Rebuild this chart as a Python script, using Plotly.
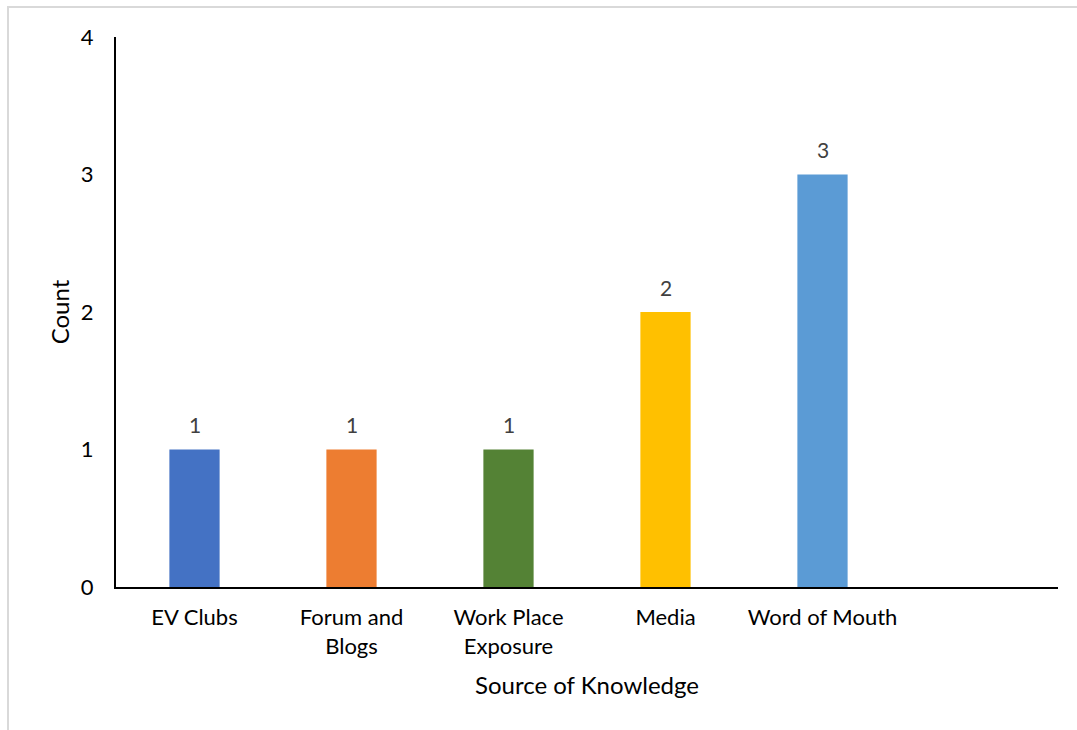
import plotly.graph_objects as go

categories = ["EV Clubs", "Forum and<br>Blogs", "Work Place<br>Exposure", "Media", "Word of Mouth"]
counts = [1, 1, 1, 2, 3]
colors = ["#4472C4", "#ED7D31", "#548235", "#FFC000", "#5B9BD5"]

W, H = 1077, 730
L, R, T, B = 116, 19, 37, 143
pw, ph = W - L - R, H - T - B

font = "Lato, Open Sans, sans-serif"

fig = go.Figure(go.Bar(
    x=categories, y=counts,
    marker=dict(color=colors, line=dict(width=0)),
    cliponaxis=False,
))

for c, v in zip(categories, counts):
    fig.add_annotation(x=c, y=v, text=str(v), showarrow=False,
                       yanchor="middle", yshift=25,
                       font=dict(family=font, size=21, color="#404040"))

fig.update_layout(
    width=W, height=H,
    margin=dict(l=L, r=R, t=T, b=B),
    paper_bgcolor="white", plot_bgcolor="white",
    bargap=0.68, showlegend=False,
    font=dict(family=font, color="#000000"),
    xaxis=dict(
        type="category", range=[-0.5, 5.5],
        showline=True, linecolor="#000000", linewidth=2,
        showgrid=False, ticks="outside", ticklen=10, tickcolor="rgba(0,0,0,0)",
        tickfont=dict(size=22, family=font, color="#000000"),
        title=dict(text="Source of Knowledge", font=dict(size=24, family=font), standoff=19),
    ),
    yaxis=dict(
        range=[0, 4], dtick=1, tick0=0,
        showline=True, linecolor="#000000", linewidth=2,
        showgrid=False, zeroline=False, ticks="outside", ticklen=16, tickcolor="rgba(0,0,0,0)",
        tickfont=dict(size=22, family=font, color="#000000"),
        title=dict(text="Count", font=dict(size=24, family=font), standoff=4),
    ),
)

# outer chart-area border
x0 = (8 - L) / pw
y1 = (H - B - 7) / ph
fig.add_shape(type="rect", xref="paper", yref="paper",
              x0=x0, x1=1.2, y0=-0.4, y1=y1,
              line=dict(color="#D9D9D9", width=2), fillcolor="rgba(0,0,0,0)", layer="below")

fig.write_html("out.html")
